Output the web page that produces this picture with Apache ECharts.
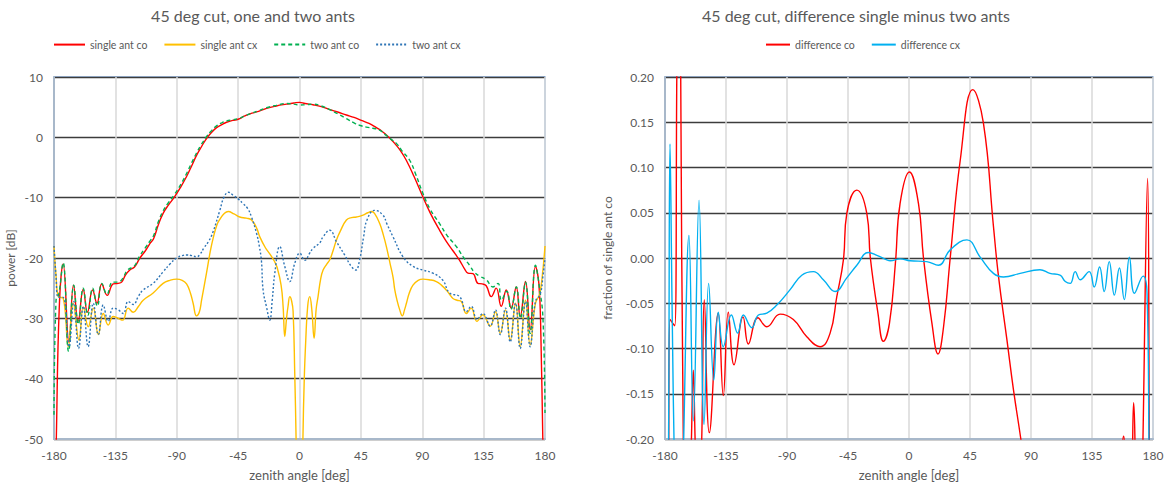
<!DOCTYPE html>
<html>
<head>
<meta charset="utf-8">
<script src="https://cdn.jsdelivr.net/npm/echarts@6/dist/echarts.min.js"></script>
<style>
  html, body { margin: 0; padding: 0; background: #ffffff; }
  #chart { width: 1167px; height: 488px; }
</style>
</head>
<body>
<div id="chart"></div>
<script>
// ---- 45 deg cut: power patterns, [zenith angle deg, power dB] ----
const singleAntCo = [
  [-180,-70],[-178.3,-50],[-176.1,-28],[-173.3,-21],[-169,-34],[-165.7,-24.5],[-162.3,-30.5],
  [-158.6,-25.2],[-155.5,-29],[-151.7,-25.3],[-148.5,-27.5],[-145,-24.3],[-141,-26.2],
  [-136.6,-24.3],[-133,-24.2],[-130.4,-24],[-127.5,-22.8],[-124.4,-22],[-121,-21.5],[-117,-20],
  [-113,-18.8],[-109.7,-17.6],[-107,-16.8],[-103.5,-14.5],[-100,-12.6],[-96,-11.2],[-92,-10],
  [-87,-8.2],[-82.8,-6.5],[-79,-4.7],[-75.5,-3],[-72,-1.6],[-68.2,-0.2],[-64.5,0.8],[-60.8,1.6],
  [-57,2.1],[-53.5,2.5],[-49,2.8],[-45,3.0],[-40.5,3.5],[-36.4,3.9],[-30,4.3],[-24.2,4.8],
  [-17,5.2],[-9.6,5.5],[-4,5.7],[0,5.8],[4,5.6],[9.9,5.4],[16,5.1],[22.2,4.6],[28,4.2],
  [34.4,3.7],[40,3.3],[45.4,2.8],[51,2.3],[56.4,1.6],[60,1.1],[63.7,0.4],[67,-0.3],[69.8,-1.0],
  [74,-2.2],[78.3,-3.8],[84,-6.5],[90.5,-9.9],[96,-12.6],[102.7,-15.4],[107.5,-17.2],
  [112.5,-18.8],[117.4,-20.4],[121,-21.8],[123.5,-22.5],[127.2,-22.6],[130.8,-24.2],[134,-24.3],
  [136.9,-24.6],[140.6,-26.4],[144.2,-25],[147.9,-28],[151.6,-25.3],[155.2,-28.3],[158.9,-24.8],
  [161.8,-29.7],[165.7,-23.9],[169.1,-31.9],[173,-21.4],[175.5,-24.2],[177,-33],[178.4,-50],[180,-65]
];

const singleAntCx = [
  [-180,-18],[-178.5,-23],[-176.8,-26.4],[-173.2,-26.7],[-169.5,-34.7],[-165.9,-27.5],
  [-161.7,-33.6],[-158.5,-28.1],[-154.9,-31.4],[-151.2,-28.3],[-147.5,-32.7],[-143.9,-29.2],
  [-140.2,-31.1],[-136.6,-29.7],[-132.9,-30],[-129.7,-30.3],[-125.6,-28.3],[-121.9,-29],
  [-118,-28],[-114.6,-27],[-107.3,-25.8],[-100,-24.2],[-95,-23.7],[-90.1,-23.5],[-86,-23.7],
  [-82.8,-24.3],[-80,-25.8],[-78,-27.5],[-75.5,-29.6],[-73.5,-29],[-71.8,-27],[-68.2,-22.5],
  [-65.5,-19],[-63.3,-16.7],[-60.5,-14.5],[-58.4,-13.6],[-55,-12.6],[-52.3,-12.3],[-48,-12.7],
  [-43.8,-13.2],[-39,-13.4],[-35.2,-13.7],[-31.5,-15],[-29.1,-16.5],[-25,-18.3],[-21.8,-19.3],
  [-18.5,-20.5],[-16.5,-21.5],[-13.5,-24.5],[-12,-28.1],[-10.8,-33],[-9.5,-30],[-8.4,-28],
  [-7.1,-26.4],[-5.9,-27],[-4.7,-28.8],[-3.5,-39],[-2.5,-50],[-1,-70],[1,-70],[2.5,-50],
  [3.5,-40],[4.6,-33.6],[6,-28],[7.5,-26.4],[9,-28.5],[10.7,-33.3],[12.2,-28.5],[13.6,-26.4],
  [15.5,-23.5],[17.3,-22],[20,-21],[22.2,-20.3],[25,-18.5],[27.1,-17],[30,-15.5],[34.4,-13.7],
  [38,-13.3],[41.7,-13.2],[46.6,-12.9],[50,-12.5],[52.7,-12.3],[55,-12.6],[58.8,-14.3],
  [61.5,-16.2],[63.7,-18.1],[66.5,-21],[68.6,-23.2],[69.8,-25.2],[71.5,-27],[73.5,-28.6],
  [75.4,-29.6],[77,-28.6],[78.4,-27.5],[80.5,-25.8],[83.2,-24.5],[87,-23.7],[90.5,-23.5],
  [95,-23.6],[100.3,-23.9],[104,-24.5],[107.6,-25.3],[110,-26],[112.5,-26.7],[115.5,-27],
  [118.6,-27.2],[122.3,-29.2],[125.9,-28.3],[130.1,-30.5],[134.4,-29.4],[139.8,-31.3],
  [143.7,-28.9],[147.2,-32.5],[151,-28.6],[154.5,-33.6],[158.4,-27.5],[161.8,-34.7],
  [165.7,-27],[169.1,-34.4],[173,-27.5],[175.9,-26.1],[178,-23],[180,-18]
];

const twoAntCo = [
  [-180,-46],[-178.5,-27],[-176.5,-26],[-173.3,-20.8],[-169.3,-35.5],[-165.5,-24.5],
  [-162.2,-31],[-158.6,-25],[-155.2,-29.5],[-151.7,-25],[-148.2,-28],[-145,-24.2],[-141.2,-26],
  [-137,-24],[-133,-24],[-130,-23.5],[-126,-22],[-121,-21.3],[-117,-19.6],[-113,-18.3],
  [-109.7,-17.2],[-107,-16.3],[-103.5,-14],[-100,-12.2],[-96,-10.8],[-92,-9.6],[-87,-7.8],
  [-82.8,-6.0],[-79,-4.2],[-75.5,-2.6],[-72,-1.2],[-68.2,0.1],[-64.5,1.1],[-60.8,1.9],
  [-57,2.4],[-53.5,2.7],[-49,2.9],[-45,3.1],[-40.5,3.5],[-36.4,3.9],[-30,4.4],[-24.2,4.9],
  [-17,5.3],[-9.6,5.6],[-4,5.5],[0,5.35],[4,5.4],[9.9,5.5],[16,5.2],[22.2,4.6],[28,3.9],
  [34.4,3.1],[40,2.4],[44,2.0],[49,1.7],[53.8,1.5],[58.8,1.2],[63.7,0.3],[67,-0.3],[71,-1.0],
  [75,-2.2],[80.8,-3.8],[85,-6.0],[90.5,-9.3],[96,-12],[102.7,-14.3],[108,-16.2],[115,-18.1],
  [120,-19.8],[124.7,-21.2],[128,-22.3],[132,-23],[136.9,-23.6],[141.8,-24.8],[145.6,-24.2],
  [148,-27],[152,-25.5],[155,-28.5],[159,-24.8],[162,-30],[165.7,-24],[169.1,-32.5],[173,-21.2],
  [176,-25],[178.5,-30],[180,-45.7]
];

const twoAntCx = [
  [-180,-18],[-178.5,-23],[-176.8,-26.5],[-173.5,-26.5],[-169,-34.7],[-165.5,-27.2],[-162,-35],
  [-158.5,-28],[-155,-34.7],[-151.2,-27.5],[-147.5,-32.7],[-143.9,-27.8],[-140.2,-30.5],
  [-136.6,-28.3],[-132.9,-28.6],[-129.2,-29.2],[-125.6,-27.2],[-121.9,-27.7],[-118,-26.3],
  [-114.6,-25.3],[-107.3,-24.2],[-100,-22.3],[-95,-21],[-90.1,-20],[-86,-19.6],[-82.8,-19.5],
  [-79,-19.6],[-75.5,-19.8],[-73,-19.4],[-70,-18.3],[-66.5,-17.2],[-63.3,-15.6],[-58.4,-12.1],
  [-55.5,-10],[-52,-9.1],[-48.7,-9.6],[-45,-10.2],[-41.3,-11],[-38,-11.8],[-35.2,-13.2],
  [-31.5,-15.9],[-29.5,-18],[-27.9,-20.5],[-26.7,-25.3],[-24.2,-28.1],[-21.8,-30.3],
  [-20,-27],[-18.1,-22.5],[-14.5,-18.1],[-10.8,-21.4],[-7.1,-23.9],[-3.5,-20.9],[0.2,-19.2],
  [3.8,-20.4],[7.5,-19.2],[9.9,-18.4],[14.8,-17.5],[17.2,-16.5],[22.2,-15.4],[27.1,-17.3],
  [33.1,-19.5],[38,-21.4],[41.2,-22],[44.1,-20.3],[47,-16.5],[49.5,-13.7],[55.1,-12.1],
  [61.2,-12.9],[64,-14.3],[68.6,-16.5],[75.9,-19.8],[83.3,-21.4],[90.5,-22],[97.8,-22.5],
  [105.1,-23.7],[110,-25.8],[117.4,-26.4],[122.3,-28.9],[125.9,-28],[130.1,-30.2],
  [134.4,-29.2],[139.8,-31.3],[143.7,-28.6],[147.2,-32.7],[151,-28.3],[154.5,-33.9],
  [158.4,-27.5],[161.8,-35],[165.7,-27.2],[169.1,-34.7],[173,-27.2],[176.5,-26],[178.5,-23],
  [180,-20]
];

// ---- difference single minus two ants, [zenith angle deg, fraction of single ant co] ----
const differenceCo = [
  [-180,-0.9],[-177.6,-0.4],[-176.3,-0.068],[-172.8,-0.075],[-171.3,0.2],[-170,0.45],
  [-168.4,0.2],[-166.5,-0.2],[-163.5,-0.38],[-160.5,-0.2],[-159.1,-0.124],[-157.8,-0.2],
  [-155.5,-0.32],[-152.9,-0.2],[-151,-0.046],[-147.3,-0.193],[-140.7,-0.061],[-137,-0.152],
  [-133.3,-0.06],[-129.1,-0.118],[-122.4,-0.065],[-118.5,-0.095],[-111.5,-0.066],
  [-104.9,-0.076],[-95.1,-0.062],[-85.3,-0.068],[-75.4,-0.087],[-65.6,-0.098],[-58.2,-0.083],
  [-53.3,-0.043],[-48.4,-0.002],[-45.9,0.049],[-38.5,0.075],[-31.1,0.049],[-28.5,0.0],
  [-23,-0.06],[-18.9,-0.092],[-14.4,-0.072],[-10,-0.005],[-6.6,0.06],[0.3,0.095],[7,0.06],
  [10.7,0.0],[16.9,-0.072],[21.4,-0.106],[25.5,-0.076],[30.4,0.0],[37.8,0.108],[47.1,0.186],
  [54.9,0.149],[62.3,0.035],[66,-0.02],[72.2,-0.09],[77.1,-0.146],[82.5,-0.2],[90,-0.28],
  [110,-0.42],[130,-0.44],[150,-0.32],[156,-0.23],[158.3,-0.197],[160.5,-0.24],[163.5,-0.26],
  [165.7,-0.16],[167.8,-0.26],[171,-0.33],[172.6,-0.2],[176,0.088],[177.5,-0.25],[180,-0.6]
];

const differenceCx = [
  [-180,-0.5],[-177.6,-0.25],[-176.3,0.126],[-174.8,-0.05],[-172.8,-0.25],[-169.5,-0.45],
  [-166.2,-0.2],[-162.3,0.025],[-159.1,-0.18],[-154.9,0.064],[-151.2,-0.184],[-147.8,-0.028],
  [-144,-0.135],[-140.7,-0.06],[-137,-0.098],[-131,-0.063],[-126.4,-0.083],[-122.2,-0.063],
  [-116,-0.077],[-111.1,-0.063],[-104.9,-0.061],[-97.5,-0.052],[-87.7,-0.035],[-79.1,-0.019],
  [-70.5,-0.015],[-63.2,-0.024],[-54.5,-0.037],[-45.9,-0.022],[-38.5,-0.008],[-30,0.006],
  [-23.7,0.003],[-16.4,-0.002],[-13.9,-0.003],[-6.6,-0.001],[0.8,-0.003],[13.1,-0.004],
  [21.7,-0.008],[30.4,0.009],[42.7,0.020],[52.5,0.001],[62.3,-0.017],[69.7,-0.021],
  [82,-0.017],[96.6,-0.013],[104,-0.017],[111.4,-0.019],[115.3,-0.026],[118.9,-0.028],
  [122.6,-0.015],[126.3,-0.024],[132.9,-0.015],[136.6,-0.032],[140.6,-0.01],[144,-0.037],
  [147.7,-0.004],[151.5,-0.041],[155.2,-0.011],[158.8,-0.046],[162.6,0.001],[166.3,-0.039],
  [172.7,-0.02],[175.6,-0.039],[177,-0.2],[178.5,-0.5]
];

const leftTitle = '45 deg cut, one and two ants';
const rightTitle = '45 deg cut, difference single minus two ants';

const FONT = 'Lato, "Open Sans", sans-serif';
const TEXT_GREY = '#595959';

function xAxisFor(gridIndex) {
  return {
    type: 'value', gridIndex, min: -180, max: 180, interval: 45,
    name: 'zenith angle [deg]', nameLocation: 'middle', nameGap: 29,
    nameTextStyle: { color: TEXT_GREY, fontFamily: FONT, fontSize: 13 },
    axisLine: { onZero: false, lineStyle: { color: '#a8b8ca', width: 2 } },
    axisTick: { show: false },
    axisLabel: { color: TEXT_GREY, fontFamily: FONT, fontSize: 12, margin: 10 },
    splitLine: { show: true, lineStyle: { color: '#d9d9d9', width: 1.5 } }
  };
}

function yAxisFor(gridIndex, min, max, interval, name, gap, fmt) {
  return {
    type: 'value', gridIndex, min, max, interval,
    name, nameLocation: 'middle', nameGap: gap,
    nameTextStyle: { color: TEXT_GREY, fontFamily: FONT, fontSize: 12 },
    axisLine: { show: true, onZero: false, lineStyle: { color: '#a8b8ca', width: 2 } },
    axisTick: { show: false },
    axisLabel: { color: TEXT_GREY, fontFamily: FONT, fontSize: 12, margin: 11, formatter: fmt },
    splitLine: { show: true, lineStyle: { color: '#3c3c3c', width: 1.3 } }
  };
}

function lineSeries(name, data, color, type, xi) {
  return {
    name, type: 'line', data, xAxisIndex: xi, yAxisIndex: xi,
    showSymbol: false, symbol: 'none', smooth: 0.45, clip: true,
    lineStyle: { color, width: 1.4, type },
    itemStyle: { color },
    emphasis: { disabled: true }
  };
}

// legend keys show only the series line, no marker
const legendBase = {
  top: 39, itemHeight: 14, padding: 0,
  itemStyle: { color: 'rgba(0,0,0,0)', borderColor: 'rgba(0,0,0,0)', borderWidth: 0 },
  textStyle: { color: TEXT_GREY, fontFamily: FONT, fontSize: 10.5 }
};

const chart = echarts.init(document.getElementById('chart'), null, { renderer: 'svg' });

chart.setOption({
  animation: false,
  backgroundColor: '#ffffff',
  graphic: [
    { type: 'text', x: 253, y: 15,
      style: { text: leftTitle, textAlign: 'center', textVerticalAlign: 'middle',
               font: '16px ' + FONT, fill: TEXT_GREY } },
    { type: 'text', x: 856, y: 15,
      style: { text: rightTitle, textAlign: 'center', textVerticalAlign: 'middle',
               font: '16px ' + FONT, fill: TEXT_GREY } }
  ],
  legend: [
    Object.assign({}, legendBase, {
      data: ['single ant co', 'single ant cx', 'two ant co', 'two ant cx'],
      left: 53, itemWidth: 31, itemGap: 16 }),
    Object.assign({}, legendBase, {
      data: ['difference co', 'difference cx'],
      left: 765, itemWidth: 24, itemGap: 16 })
  ],
  grid: [
    { left: 54, top: 77, width: 491, height: 362, show: true,
      borderColor: '#8db3e2', borderWidth: 1.5, backgroundColor: 'transparent' },
    { left: 665, top: 77, width: 488, height: 362, show: true,
      borderColor: '#8db3e2', borderWidth: 1.5, backgroundColor: 'transparent' }
  ],
  xAxis: [xAxisFor(0), xAxisFor(1)],
  yAxis: [
    yAxisFor(0, -50, 10, 10, 'power [dB]', 38, null),
    yAxisFor(1, -0.2, 0.2, 0.05, 'fraction of single ant co', 52, v => v.toFixed(2))
  ],
  series: [
    lineSeries('single ant co', singleAntCo, '#ff0000', 'solid', 0),
    lineSeries('single ant cx', singleAntCx, '#ffc000', 'solid', 0),
    lineSeries('two ant co', twoAntCo, '#00b050', [4, 3], 0),
    lineSeries('two ant cx', twoAntCx, '#2e75b6', [2, 2], 0),
    lineSeries('difference co', differenceCo, '#ff0000', 'solid', 1),
    lineSeries('difference cx', differenceCx, '#00b0f0', 'solid', 1)
  ]
});
</script>
</body>
</html>
